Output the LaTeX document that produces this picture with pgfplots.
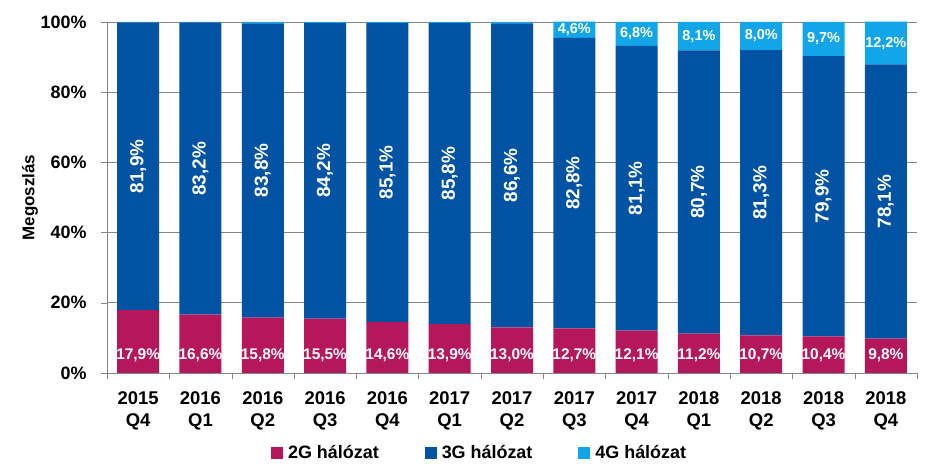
\documentclass[border=0pt]{standalone}
\usepackage{pgfplots}
\pgfplotsset{compat=1.18}
\usepackage{pgfplotstable}
\usepackage{fontspec}
\setmainfont{Liberation Sans}

\definecolor{c2g}{RGB}{180,24,90}
\definecolor{c3g}{RGB}{0,82,162}
\definecolor{c4g}{RGB}{18,165,232}
\definecolor{gridc}{RGB}{134,134,134}

% share of subscriptions by network type, per quarter (percent)
\pgfplotstableread{
x  g2   g3   g4
0  17.9 81.9 0.2
1  16.6 83.2 0.2
2  15.8 83.8 0.4
3  15.5 84.2 0.3
4  14.6 85.1 0.3
5  13.9 85.8 0.3
6  13.0 86.6 0.4
7  12.7 82.8 4.6
8  12.1 81.1 6.8
9  11.2 80.7 8.1
10 10.7 81.3 8.0
11 10.4 79.9 9.7
12 9.8  78.1 12.2
}\shares

\pgfplotsset{
  /pgf/number format/assume math mode=true,
  base/.style={
    at={(107bp,99bp)}, anchor=south west,
    scale only axis, width=810bp, height=351bp,
    xmin=-0.5, xmax=12.5, ymin=0, ymax=100,
  },
  pct/.style={
    nodes near coords={\pgfmathprintnumber[fixed,fixed zerofill,precision=1,use comma]{\pgfplotspointmeta}\%},
  },
}

\begin{document}
\begin{tikzpicture}
\useasboundingbox (0,0) rectangle (945bp,472bp);
\begin{axis}[
    base,
    ybar stacked,
    bar width=42bp,
    axis x line*=bottom,
    axis y line*=left,
    axis line style={gridc,-},
    tick align=outside,
    xtick={0,...,12},
    xticklabels={{2015\\Q4},{2016\\Q1},{2016\\Q2},{2016\\Q3},{2016\\Q4},{2017\\Q1},{2017\\Q2},{2017\\Q3},{2017\\Q4},{2018\\Q1},{2018\\Q2},{2018\\Q3},{2018\\Q4}},
    xticklabel style={align=center, yshift=-9bp, font=\fontsize{18.5}{22.5}\selectfont\bfseries},
    major x tick style={draw=none},
    minor xtick={-0.5,0.5,...,12.5},
    minor x tick style={gridc},
    minor tick length=6bp,
    ytick={0,20,...,100},
    yticklabels={0\%,20\%,40\%,60\%,80\%,100\%},
    yticklabel shift=11bp,
    yticklabel style={font=\fontsize{18}{22}\selectfont\bfseries},
    major y tick style={gridc},
    major tick length=6bp,
    ymajorgrids,
    grid style={gridc, line width=0.8pt},
    ylabel={Megoszlás},
    every axis y label/.style={at={(axis description cs:-0.095,0.5)}, rotate=90, anchor=center,
      font=\fontsize{17}{20}\selectfont\bfseries},
    legend columns=-1,
    legend style={at={(0.46,-0.228)}, anchor=center, draw=none,
      font=\fontsize{18}{20}\selectfont\bfseries,
      /tikz/every even column/.append style={column sep=44bp}},
    legend image code/.code={\fill[#1] (0bp,-6bp) rectangle (12bp,6bp); \path (0bp,0bp) -- (15bp,0bp);},
  ]
\addplot[fill=c2g, draw=none] table[x=x, y=g2]{\shares};
\addplot[fill=c3g, draw=none] table[x=x, y=g3]{\shares};
\addplot[fill=c4g, draw=none] table[x=x, y=g4]{\shares};
\legend{2G hálózat, 3G hálózat, 4G hálózat}
\end{axis}
% value labels inside the bars
\begin{axis}[base, hide axis]
\addplot[draw=none, mark=none, pct, point meta=\thisrow{g2},
  nodes near coords style={anchor=center, text=white, font=\fontsize{15.5}{18}\selectfont\bfseries}]
  table[x=x, y expr=4.9]{\shares};
\addplot[draw=none, mark=none, pct, point meta=\thisrow{g3},
  nodes near coords style={anchor=center, rotate=90, text=white, font=\fontsize{19}{22}\selectfont\bfseries}]
  table[x=x, y expr=\thisrow{g2}+\thisrow{g3}/2]{\shares};
\addplot[draw=none, mark=none, pct, point meta=\thisrow{g4}, restrict x to domain=6.5:12.5,
  nodes near coords style={anchor=center, text=white, font=\fontsize{14.5}{18}\selectfont\bfseries}]
  table[x=x, y expr=100-\thisrow{g4}/2]{\shares};
\end{axis}
\end{tikzpicture}
\end{document}
